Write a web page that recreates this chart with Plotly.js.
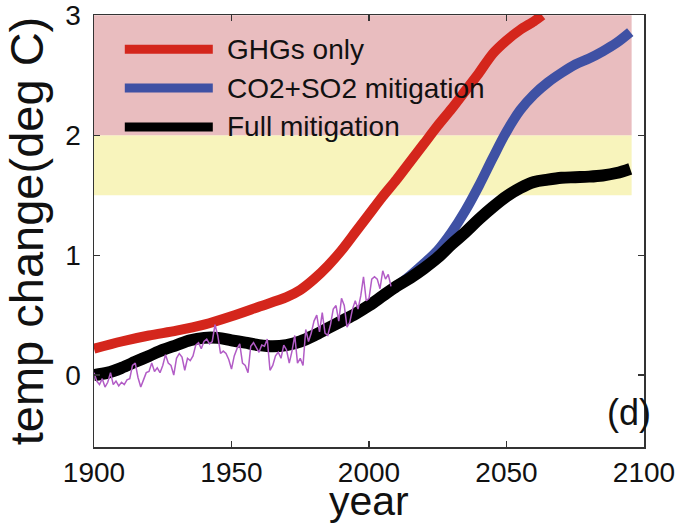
<!DOCTYPE html>
<html><head><meta charset="utf-8">
<script src="https://cdn.plot.ly/plotly-3.0.1.min.js"></script>
<style>html,body{margin:0;padding:0;background:#fff}#chart{width:678px;height:526px}</style>
</head><body><div id="chart"></div>
<script>
// ---- data ----
const seriesNames = ["GHGs only", "CO2+SO2 mitigation", "Full mitigation"];
const seriesColors = ["#d4261c", "#3f51a4", "#000000"];

const ghgYears = [1900,1910,1920,1930,1940,1950,1960,1970,1975,1980,1985,1990,1995,2000,2005,2010,2015,2020,2025,2030,2035,2040,2045,2050,2055,2060,2063];
const ghgTemps = [0.22,0.28,0.33,0.37,0.42,0.49,0.57,0.65,0.71,0.80,0.91,1.04,1.19,1.34,1.49,1.63,1.78,1.93,2.08,2.22,2.37,2.52,2.68,2.79,2.88,2.95,3.0];

const co2so2Years = [2005,2010,2015,2020,2025,2030,2035,2040,2045,2050,2055,2060,2065,2070,2075,2080,2085,2090,2095];
const co2so2Temps = [0.66,0.74,0.83,0.93,1.04,1.19,1.37,1.58,1.81,2.03,2.21,2.34,2.44,2.52,2.59,2.64,2.70,2.77,2.86];

const fullYears = [1900,1905,1910,1915,1920,1925,1930,1935,1940,1945,1950,1955,1960,1965,1970,1975,1980,1985,1990,1995,2000,2005,2010,2015,2020,2025,2030,2035,2040,2045,2050,2055,2060,2065,2070,2075,2080,2085,2090,2095];
const fullTemps = [0.00,0.02,0.06,0.11,0.16,0.21,0.25,0.29,0.31,0.31,0.29,0.27,0.25,0.24,0.25,0.28,0.33,0.39,0.45,0.51,0.58,0.66,0.74,0.81,0.89,0.98,1.09,1.19,1.30,1.40,1.49,1.56,1.61,1.63,1.645,1.65,1.655,1.665,1.685,1.72];

const obsYears = [1900,1901,1902,1903,1904,1905,1906,1907,1908,1909,1910,1911,1912,1913,1914,1915,1916,1917,1918,1919,
1920,1921,1922,1923,1924,1925,1926,1927,1928,1929,1930,1931,1932,1933,1934,1935,1936,1937,1938,1939,
1940,1941,1942,1943,1944,1945,1946,1947,1948,1949,1950,1951,1952,1953,1954,1955,1956,1957,1958,1959,
1960,1961,1962,1963,1964,1965,1966,1967,1968,1969,1970,1971,1972,1973,1974,1975,1976,1977,1978,1979,
1980,1981,1982,1983,1984,1985,1986,1987,1988,1989,1990,1991,1992,1993,1994,1995,1996,1997,1998,1999,
2000,2001,2002,2003,2004,2005,2006,2007,2008];
const obsTemps = [0.02,-0.05,-0.08,-0.03,-0.10,-0.06,0.02,-0.08,-0.05,-0.09,-0.06,-0.08,-0.04,-0.03,0.08,0.10,-0.02,-0.10,-0.04,0.02,
0.03,0.10,0.03,0.06,0.02,0.08,0.17,0.10,0.08,0.00,0.14,0.18,0.15,0.04,0.14,0.12,0.16,0.25,0.27,0.22,
0.28,0.30,0.26,0.28,0.42,0.33,0.18,0.20,0.18,0.13,0.05,0.16,0.22,0.26,0.10,0.08,0.02,0.24,0.27,0.23,
0.19,0.25,0.24,0.30,0.04,0.08,0.16,0.19,0.14,0.25,0.21,0.10,0.20,0.33,0.10,0.14,0.08,0.38,0.28,0.35,
0.45,0.50,0.36,0.52,0.35,0.33,0.42,0.55,0.58,0.45,0.64,0.58,0.40,0.44,0.55,0.62,0.55,0.66,0.82,0.62,
0.64,0.80,0.82,0.80,0.72,0.87,0.80,0.84,0.74];
const obsColor = "#b25cc6";

const bandLabels = ["1.5-2 deg", "2-3 deg"];
const bandLow = [1.5, 2];
const bandHigh = [2, 3];
const bandColors = ["#f8f4bc", "#e9bdbf"];
const bandStart = 1900, bandEnd = 2095.5;

const xTicks = [1900, 1950, 2000, 2050, 2100];
const yTicks = [0, 1, 2, 3];
const xTitle = "year";
const yTitle = "temp change(deg C)";
const panelLabel = "(d)";

// ---- traces ----
const traces = [
  {x: ghgYears, y: ghgTemps, name: seriesNames[0], mode: "lines", line: {color: seriesColors[0], width: 10, shape: "spline", smoothing: 0.8}},
  {x: co2so2Years, y: co2so2Temps, name: seriesNames[1], mode: "lines", line: {color: seriesColors[1], width: 10, shape: "spline"}},
  {x: fullYears, y: fullTemps, name: seriesNames[2], mode: "lines", line: {color: seriesColors[2], width: 12, shape: "spline"}},
  {x: obsYears, y: obsTemps, name: "observed", mode: "lines", line: {color: obsColor, width: 1.5}}
];

const FONT = "Liberation Sans, Arial, sans-serif";
const shapes = [];
const annotations = [];
for (let i = 0; i < bandLow.length; i++) {
  shapes.push({type: "rect", xref: "x", yref: "y", x0: bandStart, x1: bandEnd, y0: bandLow[i], y1: bandHigh[i],
    fillcolor: bandColors[i], line: {width: 0}, layer: "below"});
}
// manual legend
const legY = [0.921, 0.831, 0.741];
for (let i = 0; i < seriesNames.length; i++) {
  shapes.push({type: "line", xref: "paper", yref: "paper", x0: 0.056, x1: 0.216, y0: legY[i], y1: legY[i],
    line: {color: seriesColors[i], width: 9}});
  annotations.push({xref: "paper", yref: "paper", x: 0.238, y: legY[i], xanchor: "left", yanchor: "middle",
    text: seriesNames[i], showarrow: false, font: {family: FONT, size: 28, color: "#111"}});
}
annotations.push({xref: "paper", yref: "paper", x: 0.972, y: 0.079, xanchor: "center", yanchor: "middle",
  text: panelLabel, showarrow: false, font: {family: FONT, size: 36, color: "#111"}});
// x-axis title
annotations.push({xref: "paper", yref: "paper", x: 0.5, y: -0.125, xanchor: "center", yanchor: "middle",
  text: xTitle, showarrow: false, borderpad: 0, font: {family: FONT, size: 41, color: "#111"}});

const axisCommon = {
  showgrid: false, zeroline: false, showline: true, mirror: "ticks", linecolor: "#333", linewidth: 1.5,
  ticks: "inside", ticklen: 6, tickcolor: "#333", tickwidth: 1.2,
  tickfont: {family: FONT, size: 28, color: "#111"}
};

const layout = {
  width: 678, height: 526,
  margin: {l: 94, r: 34, t: 15, b: 79},
  paper_bgcolor: "#fff", plot_bgcolor: "#fff",
  showlegend: false,
  xaxis: Object.assign({}, axisCommon, {range: [1900, 2100], tickvals: xTicks, ticktext: xTicks.map(String)}),
  yaxis: Object.assign({}, axisCommon, {range: [-0.6, 3.003], tickvals: yTicks, ticktext: yTicks.map(String),
    ticklabelstandoff: 6,
    title: {text: yTitle, font: {family: FONT, size: 47, color: "#111"}}}),
  shapes: shapes,
  annotations: annotations
};

Plotly.newPlot("chart", traces, layout, {displayModeBar: false, staticPlot: true});
</script>
</body></html>
